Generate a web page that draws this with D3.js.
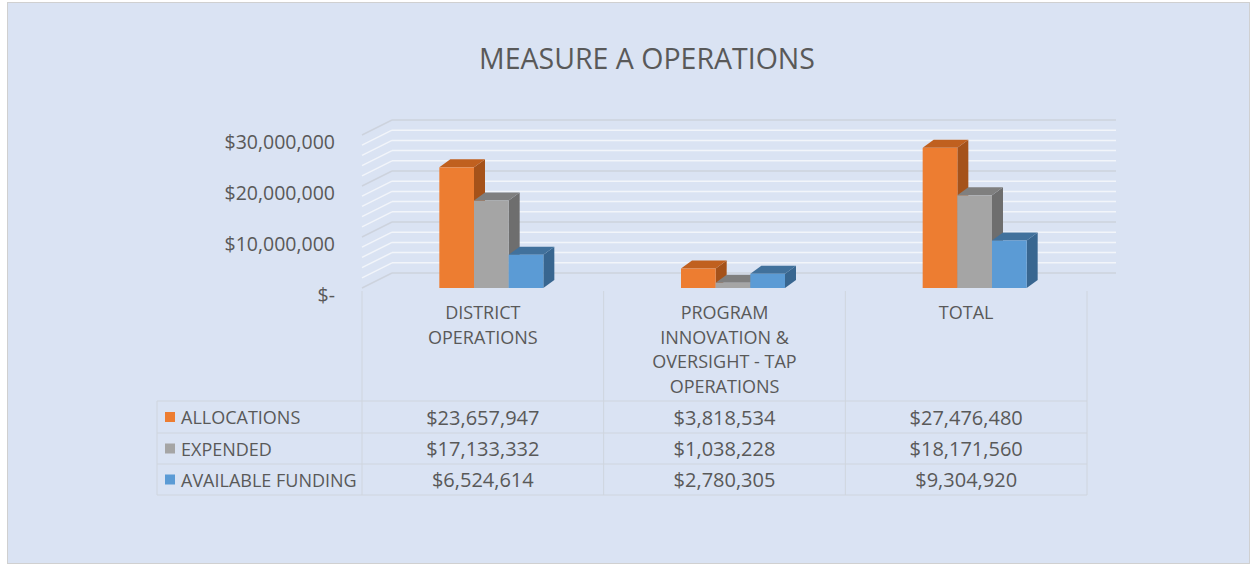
<!DOCTYPE html>
<html>
<head>
<meta charset="utf-8">
<script src="https://cdn.jsdelivr.net/npm/d3@7"></script>
<style>
  body { margin: 0; background: #fff; }
  text { font-family: "Open Sans", sans-serif; fill: #595959; }
</style>
</head>
<body>
<script>
var categories = [["DISTRICT", "OPERATIONS"], ["PROGRAM", "INNOVATION &", "OVERSIGHT - TAP", "OPERATIONS"], ["TOTAL"]];
var seriesNames = ["ALLOCATIONS", "EXPENDED", "AVAILABLE FUNDING"];
var allocations = [23657947, 3818534, 27476480];
var expended = [17133332, 1038228, 18171560];
var available = [6524614, 2780305, 9304920];
var yTicks = [0, 10000000, 20000000, 30000000];
var colors = ["#ed7d31", "#a5a5a5", "#5b9bd5"];
var topColors = ["#c0601f", "#7f7f7f", "#41719c"];
var sideColors = ["#a5521a", "#6e6e6e", "#386690"];

var W = 1252, H = 567;
var values = [allocations, expended, available];

var svg = d3.select("body").append("svg")
    .attr("width", W)
    .attr("height", H);

svg.append("rect")
    .attr("x", 7.5).attr("y", 2.5)
    .attr("width", 1242).attr("height", 561)
    .attr("fill", "#dae3f3")
    .attr("stroke", "#d0d0d0");

svg.append("text")
    .attr("x", 647).attr("y", 69)
    .attr("text-anchor", "middle")
    .attr("font-size", 28.5)
    .text("MEASURE A OPERATIONS");

// front plane and back wall
var depthX = 30, depthY = -15;
var yFront = d3.scaleLinear().domain([0, 30000000]).range([288, 135]);
var yBack = d3.scaleLinear().domain([0, 30000000]).range([288 + depthY, 135 + depthY]);
var x = d3.scaleBand().domain(d3.range(categories.length)).range([362, 1087]);
var xs = d3.scaleBand().domain(d3.range(seriesNames.length)).range([0, 104]);

var grid = d3.range(0, 30000001, 2000000);
var g = svg.append("g");
g.selectAll(".gl").data(grid).enter().append("line")
    .attr("x1", 362 + depthX).attr("x2", 1116)
    .attr("y1", d => yBack(d)).attr("y2", d => yBack(d))
    .attr("stroke", d => d % 10000000 === 0 ? "#cdd3dd" : "#f2f5fa")
    .attr("stroke-width", 1.5);
g.selectAll(".sl").data(grid).enter().append("line")
    .attr("x1", 362).attr("x2", 362 + depthX)
    .attr("y1", d => yFront(d)).attr("y2", d => yBack(d))
    .attr("stroke", d => d % 10000000 === 0 ? "#cdd3dd" : "#f2f5fa")
    .attr("stroke-width", 1.5);

svg.selectAll(".ytick").data(yTicks).enter().append("text")
    .attr("x", 335).attr("y", d => yFront(d) + 6.5)
    .attr("text-anchor", "end")
    .attr("dominant-baseline", "central")
    .attr("font-size", 19.5)
    .text(d => d === 0 ? "$-" : d3.format("$,")(d));

// bars
var bx = 11, by = -8;
categories.forEach(function(c, ci) {
  var start = x(ci) + (x.bandwidth() - 104) / 2 + 8.5;
  seriesNames.forEach(function(s, si) {
    var v = values[si][ci];
    var x0 = start + xs(si), x1 = x0 + xs.bandwidth();
    var y0 = yFront(0), y1 = yFront(v);
    var bar = svg.append("g");
    bar.append("polygon")
        .attr("points", [[x1, y1], [x1 + bx, y1 + by], [x1 + bx, y0 + by], [x1, y0]].join(" "))
        .attr("fill", sideColors[si]);
    bar.append("polygon")
        .attr("points", [[x0, y1], [x0 + bx, y1 + by], [x1 + bx, y1 + by], [x1, y1]].join(" "))
        .attr("fill", topColors[si]);
    bar.append("rect")
        .attr("x", x0).attr("y", y1)
        .attr("width", x1 - x0).attr("height", y0 - y1)
        .attr("fill", colors[si]);
  });
});

// data table
var rowY = [401, 433, 464, 495];
var tableLeft = 157, tableRight = 1087;
var t = svg.append("g").attr("stroke", "#cfd5de").attr("stroke-width", 1);
t.selectAll(".hl").data(rowY).enter().append("line")
    .attr("x1", tableLeft).attr("x2", tableRight)
    .attr("y1", d => d).attr("y2", d => d);
t.append("line").attr("x1", tableLeft).attr("x2", tableLeft).attr("y1", 401).attr("y2", 495);
t.selectAll(".vl").data(d3.range(categories.length + 1)).enter().append("line")
    .attr("x1", d => d < categories.length ? x(d) : x.range()[1])
    .attr("x2", d => d < categories.length ? x(d) : x.range()[1])
    .attr("y1", 291).attr("y2", 495);

categories.forEach(function(c, ci) {
  var tx = svg.append("text")
      .attr("text-anchor", "middle")
      .attr("font-size", 18)
      .attr("x", x(ci) + x.bandwidth() / 2);
  c.forEach(function(line, li) {
    tx.append("tspan")
        .attr("x", x(ci) + x.bandwidth() / 2)
        .attr("y", 319 + li * 24.5)
        .text(line);
  });
});

seriesNames.forEach(function(s, si) {
  var cy = (rowY[si] + rowY[si + 1]) / 2;
  svg.append("rect")
      .attr("x", 165).attr("y", cy - 5)
      .attr("width", 10).attr("height", 10)
      .attr("fill", colors[si]);
  svg.append("text")
      .attr("x", 181).attr("y", cy)
      .attr("dominant-baseline", "central")
      .attr("font-size", 18)
      .text(s);
  values[si].forEach(function(v, ci) {
    svg.append("text")
        .attr("x", x(ci) + x.bandwidth() / 2).attr("y", cy)
        .attr("text-anchor", "middle")
        .attr("dominant-baseline", "central")
        .attr("font-size", 20)
        .text(d3.format("$,")(v));
  });
});
</script>
</body>
</html>
